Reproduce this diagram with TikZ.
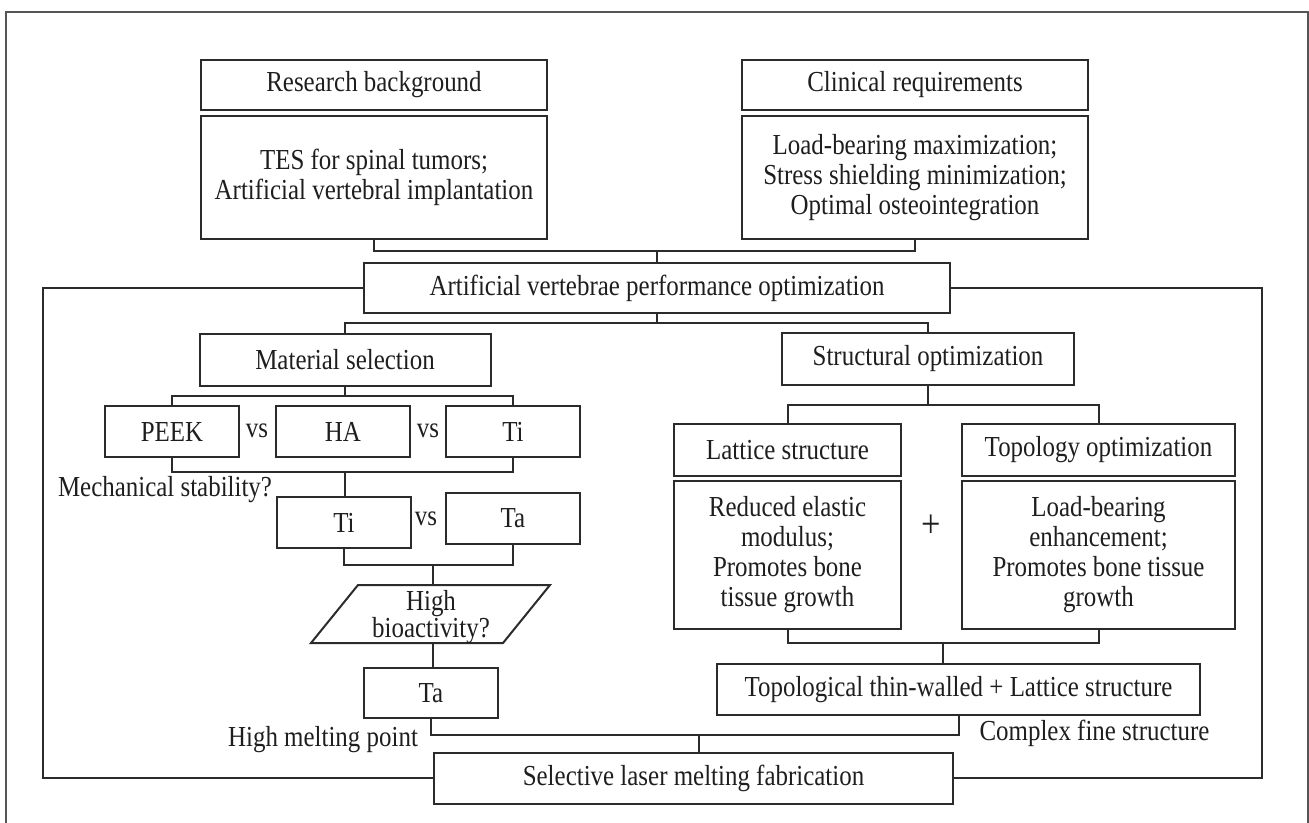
\documentclass[tikz,border=0pt]{standalone}
\usepackage{fontspec}
\setmainfont[FakeStretch=0.86]{Liberation Serif}
\usetikzlibrary{calc}
\definecolor{linec}{HTML}{2B2B2B}
\definecolor{framec}{HTML}{555555}
\definecolor{textc}{HTML}{1E1E1E}
\begin{document}
\begin{tikzpicture}[x=1pt,y=-1pt,
  box/.style={draw=linec, line width=2pt, align=center, inner sep=0pt, text=textc,
              font=\fontsize{29}{30}\selectfont},
  lbl/.style={inner sep=0pt, align=center, text=textc, font=\fontsize{29}{30}\selectfont},
  conn/.style={draw=linec, line width=2pt},
  framel/.style={draw=framec, line width=1.5pt}]
\useasboundingbox (0,0) rectangle (1309,822);
\draw[framel] (6,840) -- (6,12) -- (1308,12) -- (1308,840);

% top
\node[box, minimum width=346pt, minimum height=50pt] (rb) at (374,85) {Research background};
\node[box, minimum width=346pt, minimum height=123pt] (tes) at (374,177.5) {TES for spinal tumors;\\Artificial vertebral implantation};
\node[box, minimum width=346pt, minimum height=50pt] (cr) at (915,85) {Clinical requirements};
\node[box, minimum width=346pt, minimum height=123pt] (ld) at (915,177.5) {Load-bearing maximization;\\Stress shielding minimization;\\Optimal osteointegration};
\node[box, minimum width=586pt, minimum height=50pt] (main) at (657,288) {Artificial vertebrae performance optimization};

\coordinate (j1) at (657,251);
\draw[conn] (tes.south) |- (j1) -| (ld.south);
\draw[conn] (j1) -- (j1 |- main.north);

% second level
\node[box, minimum width=291pt, minimum height=52pt] (mat) at (345,360) {Material selection};
\node[box, minimum width=292pt, minimum height=52pt] (str) at (928,359) {Structural optimization};
\coordinate (j2) at (657,323);
\draw[conn] (main.south) -- (j2);
\draw[conn] (mat.north) |- (j2) -| (str.north);

% material branch
\node[box, minimum width=134pt, minimum height=51pt] (peek) at (172,431.5) {PEEK};
\node[box, minimum width=134pt, minimum height=51pt] (ha) at (343,431.5) {HA};
\node[box, minimum width=134pt, minimum height=51pt] (ti) at (513,431.5) {Ti};
\node[lbl] (vs1) at (257,431) {vs};
\node[lbl] (vs2) at (428,431) {vs};
\coordinate (j3) at (345,396);
\draw[conn] (mat.south) -- (j3);
\draw[conn] (peek.north) |- (j3) -| (ti.north);

\node[lbl] (mech) at (165,490) {Mechanical stability?};
\node[box, minimum width=134pt, minimum height=51pt] (ti2) at (344,522.5) {Ti};
\node[box, minimum width=134pt, minimum height=51pt] (ta) at (513,518.5) {Ta};
\node[lbl] (vs3) at (426,519) {vs};
\coordinate (j4) at (345,472);
\draw[conn] (peek.south) |- (j4) -| (ti.south);
\draw[conn] (j4) -- (j4 |- ti2.north);

\coordinate (p1) at (358,585);
\coordinate (p2) at (550,585);
\coordinate (p3) at (503,643);
\coordinate (p4) at (311,643);
\draw[conn, line join=miter] (p1) -- (p2) -- (p3) -- (p4) -- cycle;
\node[lbl, font=\fontsize{29}{25}\selectfont] (bio) at (431,617) {High\\bioactivity?};
\coordinate (j5) at (433,565);
\draw[conn] (ti2.south) |- (j5) -| (ta.south);
\draw[conn] (j5) -- (j5 |- p1);

\node[box, minimum width=134pt, minimum height=50pt] (ta3) at (431,693) {Ta};
\coordinate (pb) at (433,643);
\draw[conn] (pb) -- (pb |- ta3.north);
\node[lbl] (hmp) at (323,740) {High melting point};

% structure branch
\node[box, minimum width=227pt, minimum height=52pt] (lat) at (787.5,450) {Lattice structure};
\node[box, minimum width=227pt, minimum height=148pt] (latt) at (787.5,555) {Reduced elastic\\modulus;\\Promotes bone\\tissue growth};
\node[box, minimum width=273pt, minimum height=52pt] (topo) at (1098.5,450) {Topology optimization};
\node[box, minimum width=273pt, minimum height=148pt] (topot) at (1098.5,555) {Load-bearing\\enhancement;\\Promotes bone tissue\\growth};
\node[lbl, font=\fontsize{40}{40}\selectfont] (plus) at (931,526) {+};
\coordinate (j7) at (928,405);
\draw[conn] (str.south) -- (j7);
\draw[conn] (lat.north) |- (j7) -| (topo.north);

\node[box, minimum width=483pt, minimum height=51pt] (topol) at (958.5,689.5) {Topological thin-walled + Lattice structure};
\coordinate (j8) at (943,643);
\draw[conn] (latt.south) |- (j8) -| (topot.south);
\draw[conn] (j8) -- (j8 |- topol.north);
\node[lbl] (cfs) at (1094.5,733) {Complex fine structure};

% bottom
\node[box, minimum width=519pt, minimum height=51pt] (sel) at (693.5,778) {Selective laser melting fabrication};
\coordinate (j6) at (699,735);
\draw[conn] (ta3.south) |- (j6) -| (topol.south);
\draw[conn] (j6) -- (j6 |- sel.north);

% loop
\coordinate (cl) at (43,778);
\coordinate (cr2) at (1262,778);
\draw[conn] (main.west) -| (cl) -- (sel.west);
\draw[conn] (main.east) -| (cr2) -- (sel.east);
\end{tikzpicture}
\end{document}
